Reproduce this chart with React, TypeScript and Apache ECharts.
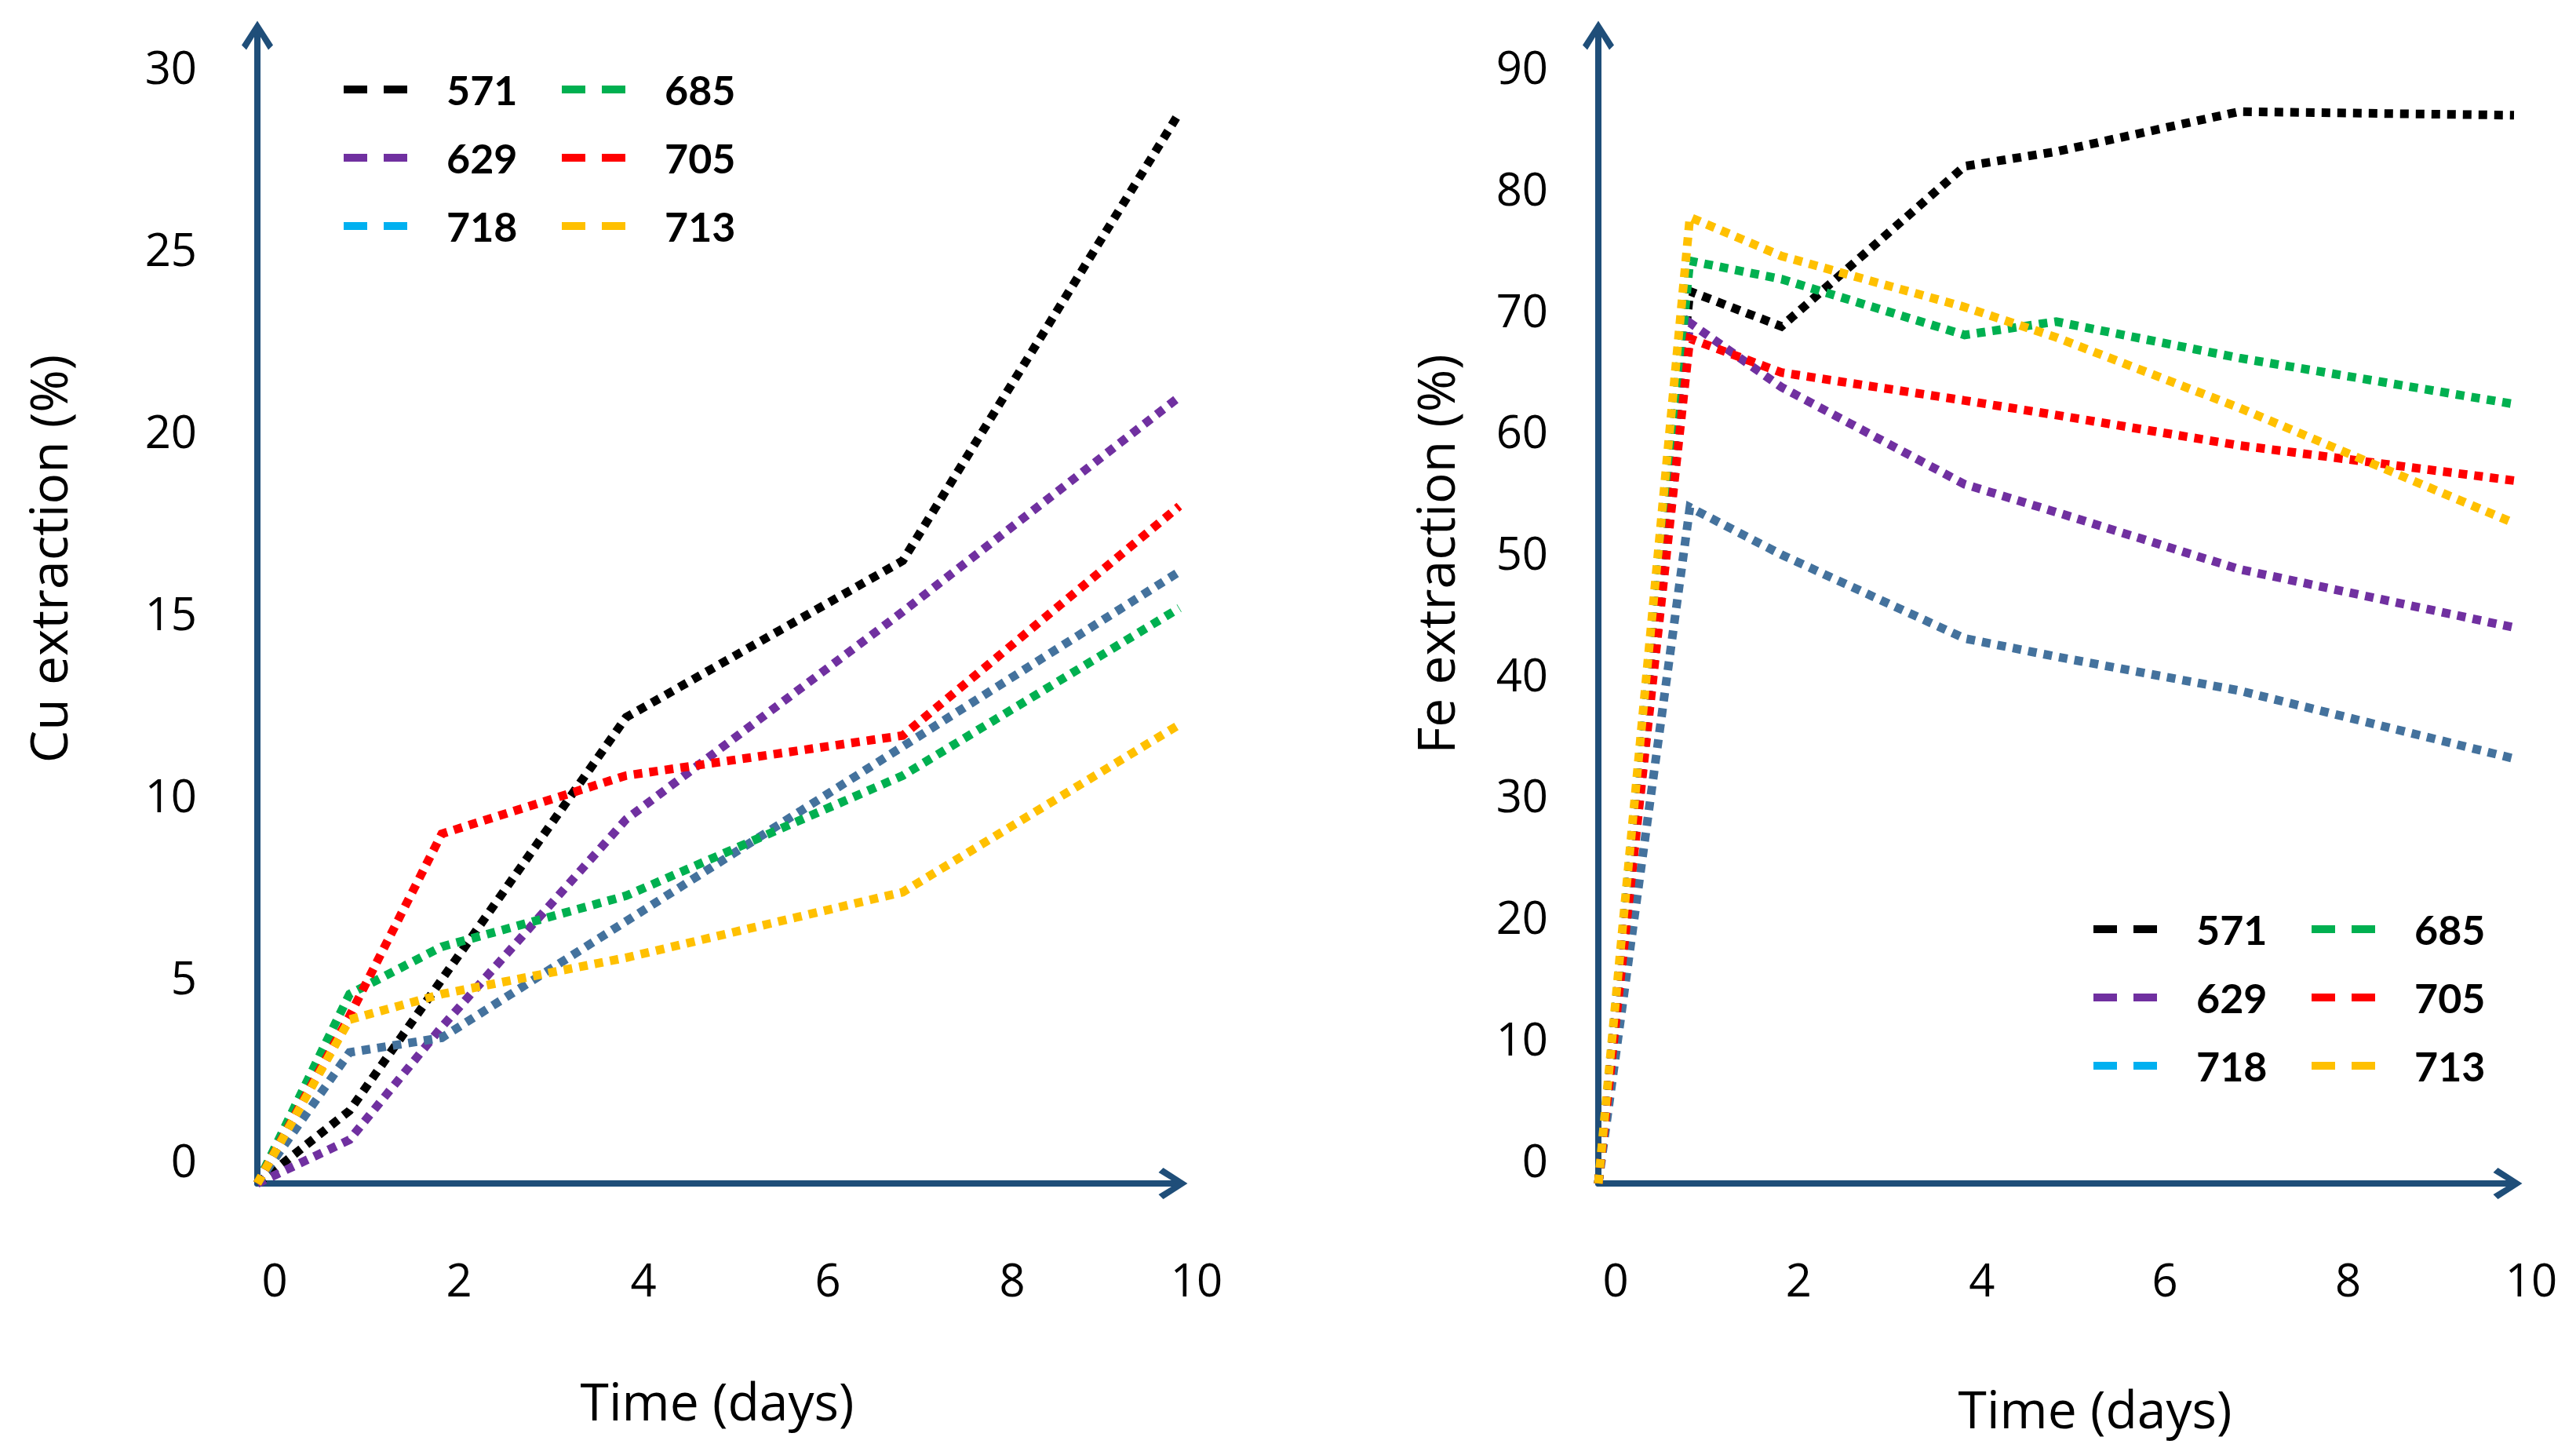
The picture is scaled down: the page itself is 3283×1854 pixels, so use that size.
import React, { useEffect, useRef } from "react";
import * as echarts from "echarts";

// ---------- data ----------
const seriesNames = ["571", "629", "718", "685", "705", "713"];
const lineColors = ["#000000", "#7030A0", "#44729D", "#00B050", "#FF0000", "#FFC000"];
const legendColors = ["#000000", "#7030A0", "#00B0F0", "#00B050", "#FF0000", "#FFC000"];

const cuDays = [0, 1, 2, 4, 7, 10];
const cu571 = [0, 2.0, 5.6, 12.8, 17.1, 29.4];
const cu629 = [0, 1.2, 4.3, 10.0, 15.7, 21.6];
const cu718 = [0, 3.6, 4.0, 7.2, 12.0, 16.8];
const cu685 = [0, 5.2, 6.5, 7.9, 11.2, 15.8];
const cu705 = [0, 4.6, 9.6, 11.2, 12.3, 18.6];
const cu713 = [0, 4.5, 5.2, 6.2, 8.0, 12.6];

const feDays = [0, 1, 2, 4, 5, 7, 10];
const fe571 = [0, 73.5, 70.6, 83.8, 85.0, 88.3, 88.0];
const fe629 = [0, 70.9, 65.6, 57.6, 55.3, 50.6, 45.8];
const fe718 = [0, 55.7, 51.8, 44.9, 43.4, 40.6, 35.0];
const fe685 = [0, 76.0, 74.5, 69.9, 71.0, 68.0, 64.2];
const fe705 = [0, 69.6, 66.8, 64.5, 63.3, 60.8, 57.9];
const fe713 = [0, 79.6, 76.4, 72.2, 69.7, 63.9, 54.4];

const cuValues = [cu571, cu629, cu718, cu685, cu705, cu713];
const feValues = [fe571, fe629, fe718, fe685, fe705, fe713];

const legendCol1 = ["571", "629", "718"];
const legendCol2 = ["685", "705", "713"];

const xTitle = "Time (days)";
const cuTitle = "Cu extraction (%)";
const feTitle = "Fe extraction (%)";

// ---------- styling ----------
const AXIS = "#1F4E79";
const ARROW = "path://M20,0 L40,31 L34,37 L20,14 L6,37 L0,31 Z";
const DASH_ICON = "path://M0,0h30v10h-30z M51,0h30v10h-30z";
const TICK_FONT = "Open Sans";
const TITLE_FONT = "Open Sans";
const LEGEND_FONT = "Lato";

function xAxisCfg(gridIndex: number) {
  return {
    type: "value",
    gridIndex,
    min: 0,
    max: 10,
    interval: 2,
    axisLine: {
      show: true,
      onZero: true,
      lineStyle: { color: AXIS, width: 8 },
      symbol: ["none", ARROW],
      symbolSize: [40, 37],
      symbolOffset: [0, -8],
    },
    axisTick: { show: false },
    splitLine: { show: false },
    axisLabel: {
      color: "#000",
      fontFamily: TICK_FONT,
      fontSize: 58,
      margin: 92,
      padding: [0, 0, 0, 44],
    },
  };
}

function yAxisCfg(gridIndex: number, max: number, interval: number, margin: number) {
  return {
    type: "value",
    gridIndex,
    min: 0,
    max,
    interval,
    axisLine: {
      show: true,
      onZero: true,
      lineStyle: { color: AXIS, width: 8 },
      symbol: ["none", ARROW],
      symbolSize: [40, 37],
      symbolOffset: [0, -8],
    },
    axisTick: { show: false },
    splitLine: { show: false },
    axisLabel: {
      color: "#000",
      fontFamily: TICK_FONT,
      fontSize: 58,
      margin,
      verticalAlign: "bottom",
      lineHeight: 62,
      showMaxLabel: false,
      formatter: (v: number) => (Math.abs(v / interval - Math.round(v / interval)) < 1e-6 ? String(v) : ""),
    },
  };
}

function buildSeries(days: number[], values: number[][], axisIndex: number) {
  return seriesNames.map((name, i) => ({
    type: "line",
    name,
    xAxisIndex: axisIndex,
    yAxisIndex: axisIndex,
    data: days.map((d, j) => [d, values[i][j]]),
    symbol: "none",
    showSymbol: false,
    silent: true,
    emphasis: { disabled: true },
    itemStyle: { color: legendColors[i] },
    lineStyle: { color: lineColors[i], width: 11, type: [11, 9], cap: "butt", join: "miter" },
    z: 2,
  }));
}

function legendCfg(names: string[], left: number, top: number) {
  return {
    orient: "vertical",
    left,
    top,
    padding: 0,
    itemWidth: 81,
    itemHeight: 10,
    itemGap: 35,
    icon: DASH_ICON,
    selectedMode: false,
    itemStyle: { borderWidth: 0 },
    textStyle: {
      fontFamily: LEGEND_FONT,
      fontWeight: "bold",
      fontSize: 52,
      lineHeight: 50,
      color: "#000",
      padding: [0, 0, 0, 45],
    },
    data: names.map((n) => ({
      name: n,
      icon: DASH_ICON,
      itemStyle: { color: legendColors[seriesNames.indexOf(n)], borderWidth: 0 },
    })),
  };
}

function titleText(text: string, x: number, y: number, rotate: boolean) {
  return {
    type: "text",
    x,
    y,
    rotation: rotate ? Math.PI / 2 : 0,
    silent: true,
    style: {
      text,
      fill: "#000",
      font: `66px "${TITLE_FONT}"`,
      fontFamily: TITLE_FONT,
      fontSize: 66,
      align: "center",
      verticalAlign: "middle",
      textAlign: "center",
      textVerticalAlign: "middle",
    },
  };
}

export default function App() {
  const ref = useRef<HTMLDivElement>(null);

  useEffect(() => {
    document.body.style.margin = "0";
    document.body.style.overflow = "hidden";
    if (!ref.current) return;
    const chart = echarts.init(ref.current, null, { renderer: "svg" });

    const gridTop = 37;
    const gridBottom = 1854 - 1508;

    const option = {
      animation: false,
      backgroundColor: "#ffffff",
      grid: [
        { left: 328, top: gridTop, width: 1175, bottom: gridBottom, containLabel: false },
        { left: 2037, top: gridTop, width: 1167, bottom: gridBottom, containLabel: false },
      ],
      xAxis: [xAxisCfg(0), xAxisCfg(1)],
      yAxis: [yAxisCfg(0, 31.7, 5, 77), yAxisCfg(1, 95.1, 10, 64)],
      legend: [
        legendCfg(legendCol1, 438, 88),
        legendCfg(legendCol2, 716, 88),
        legendCfg(legendCol1, 2668, 1158),
        legendCfg(legendCol2, 2946, 1158),
      ],
      graphic: [
        titleText(cuTitle, 60, 712, true),
        titleText(xTitle, 914, 1784, false),
        titleText(feTitle, 1828, 706, true),
        titleText(xTitle, 2670, 1794, false),
      ],
      series: [...buildSeries(cuDays, cuValues, 0), ...buildSeries(feDays, feValues, 1)],
    };

    chart.setOption(option as any);
    return () => chart.dispose();
  }, []);

  return <div ref={ref} style={{ width: "3283px", height: "1854px" }} />;
}
